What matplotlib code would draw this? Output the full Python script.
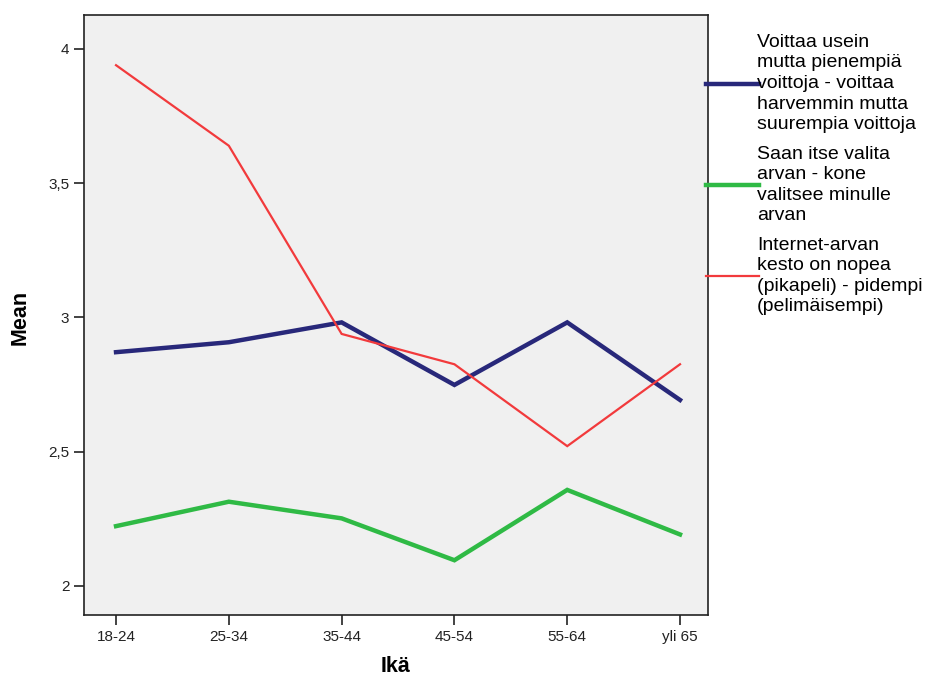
import matplotlib
matplotlib.use('Agg')
import matplotlib.pyplot as plt
from matplotlib.lines import Line2D
from matplotlib.ticker import FuncFormatter

plt.rcParams['font.family'] = ['Liberation Sans', 'DejaVu Sans']

# age groups
ages = ['18-24', '25-34', '35-44', '45-54', '55-64', 'yli 65']

# means per question
voittaa = [2.870, 2.907, 2.981, 2.748, 2.981, 2.692]
valita = [2.222, 2.313, 2.251, 2.095, 2.357, 2.191]
kesto = [3.939, 3.639, 2.938, 2.825, 2.520, 2.825]

labels = [
    'Voittaa usein\nmutta pienempiä\nvoittoja - voittaa\nharvemmin mutta\nsuurempia voittoja',
    'Saan itse valita\narvan - kone\nvalitsee minulle\narvan',
    'Internet-arvan\nkesto on nopea\n(pikapeli) - pidempi\n(pelimäisempi)',
]
colors = ['#28287a', '#2fba45', '#f23a3c']
widths = [3.2, 3.2, 1.6]

W, H = 933, 675
fig = plt.figure(figsize=(W / 100, H / 100), dpi=100)
ax = fig.add_axes([84 / W, 60 / H, (708 - 84) / W, (615 - 15) / H])
ax.set_facecolor('#f0f0f0')

x = list(range(len(ages)))
for vals, c, lw in zip([voittaa, valita, kesto], colors, widths):
    ax.plot(x, vals, color=c, lw=lw, solid_joinstyle='miter')

ax.set_xlim(-0.284, 5.248)
ax.set_ylim(1.891, 4.126)
ax.set_xticks(x)
ax.set_xticklabels(ages)
ax.set_yticks([2, 2.5, 3, 3.5, 4])
ax.yaxis.set_major_formatter(FuncFormatter(lambda v, p: ('%g' % v).replace('.', ',')))
ax.tick_params(direction='out', length=7, width=1.2, labelsize=11, colors='#222222')
for s in ax.spines.values():
    s.set_linewidth(1.2)
    s.set_color('#222222')

# axis titles
fig.text(396 / W, 1 - 666 / H, 'Ikä', fontsize=15.5, fontweight='bold',
         ha='center', va='center')
fig.text(20 / W, 1 - 317 / H, 'Mean', fontsize=15.5, fontweight='bold',
         ha='center', va='center', rotation=90)

# legend drawn by hand, right of the plot
centers = [83.5, 185, 276]
for lab, c, lw, yc in zip(labels, colors, widths, centers):
    fy = 1 - yc / H
    fig.add_artist(Line2D([706 / W, 759 / W], [fy, fy], color=c, lw=lw,
                          transform=fig.transFigure))
    fig.text(757 / W, fy, lab, fontsize=14, va='center', ha='left',
             linespacing=1.28, color='black')

fig.savefig('out.png', dpi=100)
